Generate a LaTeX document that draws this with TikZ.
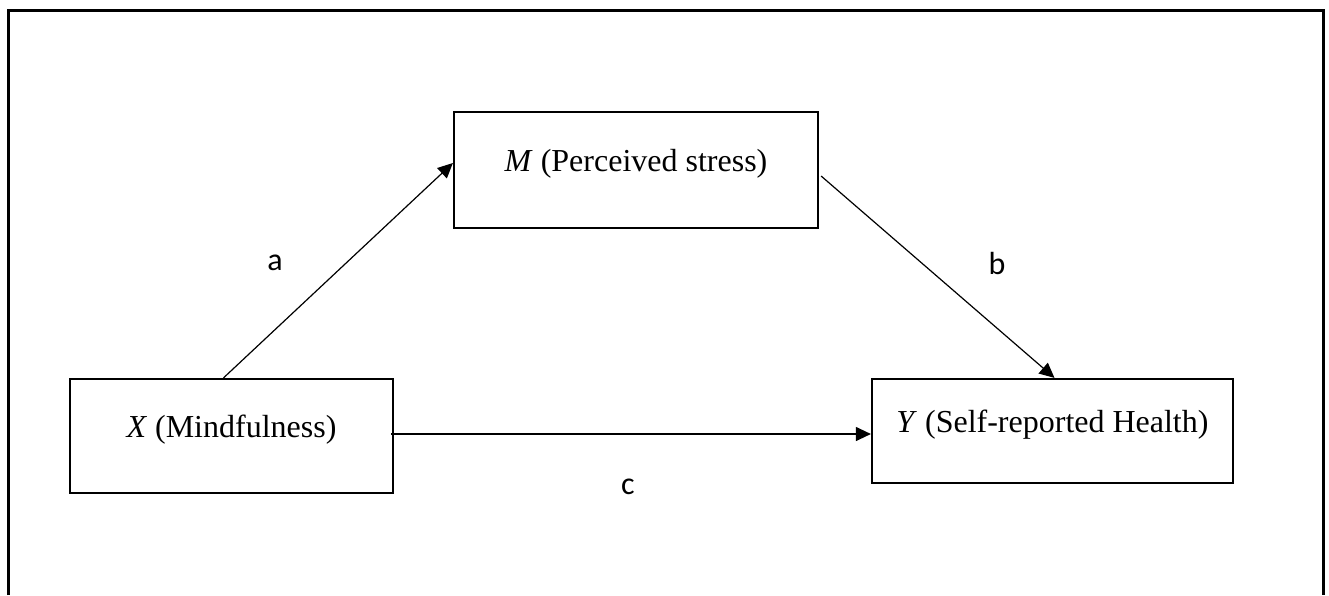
\documentclass[tikz,border=0pt]{standalone}
\usepackage{fontspec}
\setmainfont{Liberation Serif}
\newfontfamily\labelfont{Carlito}
\usetikzlibrary{calc,arrows.meta}

\tikzset{
  varbox/.style={draw, line width=1.1pt, rectangle, inner sep=0pt,
    font=\fontsize{16}{19}\selectfont, text height=11pt, text depth=9.4pt},
  path/.style={line width=0.6pt, -{Triangle[length=7.5pt,width=7pt]}},
  pathlabel/.style={font=\labelfont\fontsize{16}{19}\selectfont}
}

\begin{document}
\begin{tikzpicture}[x=0.5pt,y=-0.5pt]
  \useasboundingbox (0,0) rectangle (1329,595);
  % open frame
  \draw[line width=1.5pt] (8,595) -- (8,10) -- (1323,10) -- (1323,595);

  \node[varbox, minimum width=161.5pt, minimum height=57pt] (mind) at (231.5,436) {\textit{X} (Mindfulness)};
  \node[varbox, minimum width=182pt, minimum height=58pt] (stress) at (636,170) {\textit{M} (Perceived stress)};
  \node[varbox, minimum width=180.5pt, minimum height=52pt] (health) at (1052.5,431) {\textit{Y} (Self-reported Health)};

  \node[pathlabel] (a) at (275,263) {a};
  \node[pathlabel] (b) at (997,263) {b};
  \node[pathlabel] (c) at (628,487) {c};

  % paths
  \draw[path] ($(mind.north)+(-8,0)$) -- ($(stress.west)+(0,-7)$);
  \draw[path] ($(stress.east)+(2,6)$) -- ($(health.north)+(2,0)$);
  \coordinate (cstart) at ($(mind.east)+(-3,-2)$);
  \draw[path] (cstart) -- (cstart -| health.west);
\end{tikzpicture}
\end{document}
